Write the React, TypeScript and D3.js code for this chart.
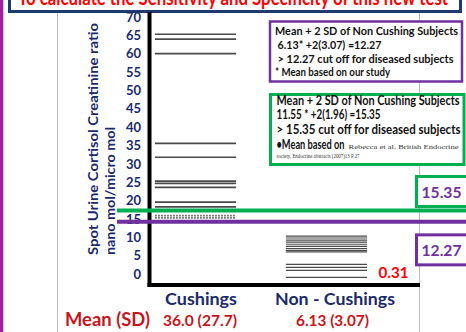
import React from "react";
import * as d3 from "d3";

const categories = ["Cushings", "Non - Cushings"];
const meanLabels = ["36.0 (27.7)", "6.13 (3.07)"];
const cushingValues = [65.3, 64.0, 60.0, 35.6, 31.8, 25.3, 24.7, 23.6, 19.6, 18.3];
const cushingDashed = [15.9, 15.3];
const nonCushingValues = [10.3, 9.8, 9.2, 8.7, 8.1, 7.5, 6.9, 6.4, 6.0, 2.6, 1.8, 1.0, -0.9];
const nonCushingDashed = [14.5];
const yTicks = [0, 5, 10, 15, 20, 25, 30, 35, 40, 45, 50, 55, 60, 65, 70];
const cutoffLabels = ["15.35", "12.27"];
const cutoffValues = [17.3, 14.2];
const minLabel = "0.31";
const minLabelValue = 0.31;
const titleText = "To calculate the Sensitivity and Specificity of this new test";
const box1Lines = [
  "Mean + 2 SD of Non Cushing Subjects",
  "6.13* +2(3.07) =12.27",
  "> 12.27 cut off for diseased subjects",
  "* Mean based on our study",
];
const box2Lines = [
  "Mean + 2 SD of Non Cushing Subjects",
  "11.55 * +2(1.96) =15.35",
  "> 15.35 cut off for diseased subjects",
];
const box2Ref = ["•Mean based on", "Rebecca et al.  British Endocrine", "society,  Endocrine abstracts (2007)13 P 27"];
const yTitle = ["Spot Urine Cortisol Creatinine ratio", "nano mol/micro mol"];

const NAVY = "#1b2a6b";
const RED = "#c8151b";
const PURPLE = "#7030a0";
const GREEN = "#00b050";
const FONT = "Lato, 'Open Sans', sans-serif";

export default function App() {
  const W = 466, H = 332;
  const y = d3.scaleLinear().domain([0, 70]).range([274, 17]);
  const x = d3.scaleBand().domain(categories).range([130, 392]);
  const lineW = x.bandwidth() * 0.62;
  const axisX = 149.5;
  const axisY = y(-3);
  const cutoffColors = [GREEN, PURPLE];
  const cutoffBoxColors = [GREEN, PURPLE];
  const cutoffBoxOffsets = [-34, 13];

  const seriesLines = (cat: string, vals: number[], dashed: boolean, thin: boolean) =>
    vals.map((v, i) => {
      const cx = (x(cat) as number) + x.bandwidth() / 2;
      return (
        <line
          key={cat + (dashed ? "d" : "s") + i}
          x1={cx - lineW / 2}
          x2={cx + lineW / 2}
          y1={y(v)}
          y2={y(v)}
          stroke={dashed ? "#777" : "#4a4a4a"}
          strokeWidth={dashed ? 1.6 : thin ? 1.2 : 1.7}
          strokeDasharray={dashed ? "2,1" : undefined}
        />
      );
    });

  return (
    <svg width={W} height={H} style={{ position: "absolute", left: 0, top: 0, background: "#fff" }} fontFamily={FONT}>
      <rect x={0} y={0} width={W} height={H} fill="#fff" />
      {/* slide decorations */}
      <rect x={0} y={0} width={3.3} height={H} fill="#a020a0" />
      <line x1={57.5} x2={57.5} y1={0} y2={H} stroke="#bdbdbd" strokeWidth={1} />
      <line x1={419.5} x2={419.5} y1={0} y2={H} stroke="#bdbdbd" strokeWidth={1} />

      {/* title */}
      <rect x={9.5} y={-30} width={451} height={41.5} fill="#fff" stroke="#1f3a6e" strokeWidth={3} />
      <text x={18} y={5} fontSize={21} fontWeight="bold" fill="#ff0000" textLength={430} lengthAdjust="spacingAndGlyphs">
        {titleText}
      </text>

      {/* y axis title */}
      {yTitle.map((t, i) => (
        <text
          key={t}
          transform={`translate(${[97.5, 114.5][i]},255) rotate(-90)`}
          fontSize={13}
          fontWeight="bold"
          fill={NAVY}
          textLength={[232, 128][i]}
          lengthAdjust="spacingAndGlyphs"
        >
          {t}
        </text>
      ))}

      {/* ticks */}
      {yTicks.map((t) => (
        <text key={t} x={141} y={y(t)} dy="0.36em" textAnchor="end" fontSize={13} fontWeight="bold" fill={NAVY}>
          {t}
        </text>
      ))}

      {/* data lines */}
      {seriesLines(categories[0], cushingValues, false, false)}
      {seriesLines(categories[0], cushingDashed, true, false)}
      {seriesLines(categories[1], nonCushingValues, false, true)}
      {seriesLines(categories[1], nonCushingDashed, true, false)}

      {/* axes */}
      <line x1={axisX} x2={axisX} y1={12} y2={axisY + 2} stroke="#000" strokeWidth={4} />
      <line x1={axisX - 2} x2={420} y1={axisY} y2={axisY} stroke="#000" strokeWidth={4} />

      {/* cutoff lines */}
      {cutoffValues.map((v, i) => (
        <g key={"c" + i}>
          <line x1={117} x2={W} y1={y(v)} y2={y(v)} stroke={cutoffColors[i]} strokeWidth={4} />
          <rect
            x={416.5}
            y={y(v) + cutoffBoxOffsets[i]}
            width={60}
            height={30}
            fill="#fff"
            stroke={cutoffBoxColors[i]}
            strokeWidth={3}
          />
          <text
            x={421.5}
            y={y(v) + cutoffBoxOffsets[i] + 21.5}
            fontSize={16}
            fontWeight="bold"
            fill={PURPLE}
            textLength={40}
            lengthAdjust="spacingAndGlyphs"
          >
            {cutoffLabels[i]}
          </text>
        </g>
      ))}

      {/* min label */}
      <text x={378.5} y={y(minLabelValue) + 5} fontSize={15} fontWeight="bold" fill="#ff0000" textLength={30} lengthAdjust="spacingAndGlyphs">
        {minLabel}
      </text>

      {/* category labels */}
      {categories.map((c, i) => (
        <text
          key={c}
          x={(x(c) as number) + x.bandwidth() / 2 + [5.5, 8.5][i]}
          y={305}
          textAnchor="middle"
          fontSize={17}
          fontWeight="bold"
          fill={NAVY}
          textLength={[72, 120][i]}
          lengthAdjust="spacingAndGlyphs"
        >
          {c}
        </text>
      ))}
      <text x={65} y={326} fontSize={18} fontWeight="bold" fill={RED} textLength={85} lengthAdjust="spacingAndGlyphs">
        Mean (SD)
      </text>
      {meanLabels.map((m, i) => (
        <text
          key={m}
          x={(x(categories[i]) as number) + x.bandwidth() / 2 + [4.5, 6][i]}
          y={326}
          textAnchor="middle"
          fontSize={15}
          fontWeight="bold"
          fill={RED}
          textLength={[74, 73][i]}
          lengthAdjust="spacingAndGlyphs"
        >
          {m}
        </text>
      ))}

      {/* annotation box 1 */}
      <rect x={270} y={21.5} width={192} height={60} fill="#fff" stroke={PURPLE} strokeWidth={2.5} />
      {box1Lines.map((t, i) => (
        <text
          key={"b1" + i}
          x={[275, 277.5, 277.5, 275][i]}
          y={[34.5, 48.5, 63, 76][i]}
          fontSize={12}
          fontWeight="bold"
          fill="#111"
          textLength={[183, 104, 176, 115][i]}
          lengthAdjust="spacingAndGlyphs"
        >
          {t}
        </text>
      ))}

      {/* annotation box 2 */}
      <rect x={270.5} y={94.5} width={193.5} height={70} fill="#fff" stroke={GREEN} strokeWidth={3} />
      {box2Lines.map((t, i) => (
        <text
          key={"b2" + i}
          x={276.5}
          y={[104.5, 119, 134][i]}
          fontSize={12.5}
          fontWeight="bold"
          fill="#111"
          textLength={[183, 104, 184][i]}
          lengthAdjust="spacingAndGlyphs"
        >
          {t}
        </text>
      ))}
      <text x={276.5} y={149} fontSize={12.5} fontWeight="bold" fill="#111" textLength={68} lengthAdjust="spacingAndGlyphs">
        {box2Ref[0]}
      </text>
      <text x={348.5} y={148.5} fontSize={6.5} fill="#333" fontFamily="'Liberation Serif', serif" textLength={110} lengthAdjust="spacingAndGlyphs">
        {box2Ref[1]}
      </text>
      <text x={276.5} y={158} fontSize={6.5} fill="#333" fontFamily="'Liberation Serif', serif" textLength={83} lengthAdjust="spacingAndGlyphs">
        {box2Ref[2]}
      </text>
    </svg>
  );
}
